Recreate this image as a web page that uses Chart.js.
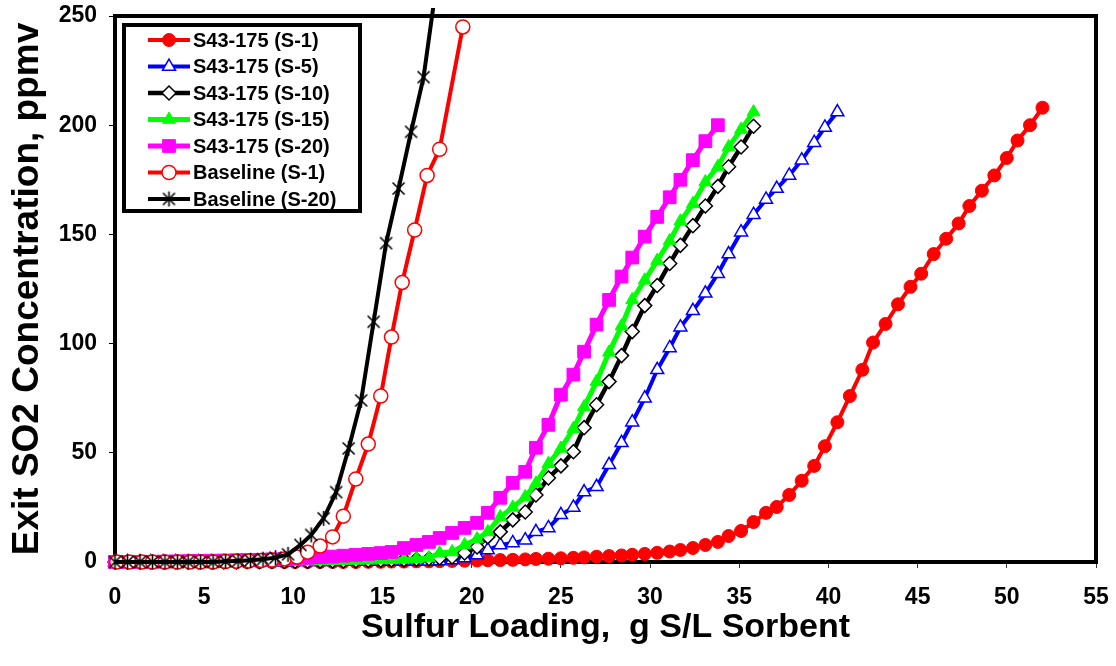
<!DOCTYPE html>
<html>
<head>
<meta charset="utf-8">
<title>Exit SO2 vs Sulfur Loading</title>
<script src="https://cdn.jsdelivr.net/npm/chart.js@4.4.1/dist/chart.umd.min.js"></script>
<style>
  html, body { margin: 0; padding: 0; background: #fff; }
  #wrap { width: 1116px; height: 666px; }
</style>
</head>
<body>
<div id="wrap"><canvas id="myChart" width="1116" height="666"></canvas></div>
<script>
// sulfur loading, g S/L sorbent (sample points of the S43-175 runs)
var loading = [0, 0.7, 1.4, 2.0, 2.7, 3.4, 4.1, 4.7, 5.4, 6.1, 6.8, 7.4, 8.1, 8.8, 9.5, 10.1, 10.8, 11.5, 12.2, 12.8,
  13.5, 14.2, 14.9, 15.5, 16.2, 16.9, 17.6, 18.2, 18.9, 19.6, 20.3, 20.9, 21.6, 22.3, 23.0, 23.6, 24.3, 25.0, 25.7, 26.3,
  27.0, 27.7, 28.4, 29.0, 29.7, 30.4, 31.1, 31.7, 32.4, 33.1, 33.8, 34.4, 35.1, 35.8, 36.5, 37.1, 37.8, 38.5, 39.2, 39.8,
  40.5, 41.2, 41.9, 42.5, 43.2, 43.9, 44.6, 45.2, 45.9, 46.6, 47.3, 47.9, 48.6, 49.3, 50.0, 50.6, 51.3, 52.0]

// exit SO2, ppmv
var s1 = [0, 0, 0, 0, 0, 0, 0, 0, 0, 0, 0, 0, 0, 0, 0, 0, 0, 0, 0, 0, 0,
  0.1, 0.1, 0.2, 0.2, 0.3,
  0.3, 0.4, 0.5, 0.6, 0.7, 0.8, 0.9, 1.0, 1.2, 1.4, 1.5, 1.7, 1.9, 2.1, 2.4, 2.7, 3.0, 3.3, 3.7, 4.2, 4.8,
  5.5, 6.4, 7.8, 9.2, 11.9, 14.2, 18.3, 22.5, 25.2, 30.7, 37.2, 44, 53, 64, 76, 88, 100.5, 109, 118, 126,
  132, 141, 148, 155, 163, 170, 177, 185, 193, 200, 208]
var s5 = [0, 0, 0, 0, 0, 0, 0, 0, 0, 0, 0, 0, 0, 0, 0,
  0.1, 0.1, 0.1, 0.1, 0.2, 0.2, 0.2, 0.3, 0.3, 0.3, 0.4, 0.4, 0.5,
  0.9, 1.8, 3.2, 5.5, 7.8, 8.7, 10, 13.8, 15.6, 21.6, 25, 32, 34.4, 44.5, 54.6, 64, 75, 88, 98, 107.5,
  115, 123, 132, 141, 151, 159, 166, 171, 177, 184, 192, 199, 206]
var s10 = [0, 0, 0, 0, 0, 0, 0, 0, 0, 0, 0,
  0.1, 0.1, 0.2, 0.2, 0.3, 0.3, 0.4, 0.5, 0.5, 0.6, 0.7, 0.8, 0.9, 1.0, 1.2, 1.5,
  1.8, 2.3, 4.1, 6.9, 11.5, 13.8, 19.3, 22.9, 30.7, 38.5, 44, 50.5, 61.5, 72, 82.6, 94.5, 105.5, 117.4,
  126.6, 136.7, 145, 154, 163, 172, 181, 190, 199.5]
var s15 = [0, 0, 0, 0, 0, 0, 0, 0, 0, 0, 0, 0,
  0.1, 0.1, 0.2, 0.3, 0.3, 0.4, 0.5, 0.6, 0.7, 0.8, 0.9, 1.0, 1.2, 1.5,
  1.8, 4.1, 4.6, 7.8, 10.5, 13.8, 20.6, 25, 29.8, 36, 45, 52, 61, 71, 82.6, 96, 108, 120,
  129, 138, 147, 156, 164, 174, 181, 190, 198, 206]
var s20 = [0, 0, 0, 0.1, 0.2, 0.3, 0.4, 0.5, 0.6, 0.7, 0.8, 0.9, 1.0, 1.2, 1.4, 1.6, 1.9, 2.2, 2.5, 2.9, 3.3, 3.7,
  4.1, 4.6, 6.4, 7.8, 9.2, 11, 13.3, 15.6, 17.9, 22.5, 29.4, 36.2, 41.3, 52.3, 62.8, 76.6, 85.8, 96.3,
  108.7, 120, 130.7, 139.4, 149, 158, 167, 175, 184, 192.7, 200]

// baseline runs have their own loading points
var baseS1X = [0.1, 0.8, 1.5, 2.1, 2.8, 3.5, 4.2, 4.8, 5.5, 6.2, 6.8, 7.5, 8.2, 8.8, 9.5, 10.2, 10.8, 11.5, 12.2, 12.8,
  13.5, 14.2, 14.9, 15.5, 16.1, 16.8, 17.5, 18.2, 19.5]
var baseS1Y = [0, 0, 0, 0, 0, 0, 0, 0, 0, 0.2, 0.3, 0.5, 0.7, 0.9, 1.4, 2.3, 4.5, 7.3, 11.5, 21,
  38, 54, 76, 103, 128, 152, 177, 189, 245]
var baseS20X = [0, 0.7, 1.4, 2.1, 2.8, 3.5, 4.1, 4.8, 5.5, 6.2, 6.9, 7.6, 8.3, 9.0, 9.7, 10.4, 11.0, 11.7, 12.4, 13.1,
  13.8, 14.5, 15.2, 15.9, 16.6, 17.3, 18.2]
var baseS20Y = [0, 0, 0, 0, 0, 0, 0, 0, 0, 0.3, 0.5, 0.8, 1.3, 2.0, 3.5, 7.8, 12.4, 20, 32, 52,
  74, 110, 146, 171, 197, 222, 275]

var seriesNames = ['S43-175 (S-1)', 'S43-175 (S-5)', 'S43-175 (S-10)', 'S43-175 (S-15)', 'S43-175 (S-20)',
  'Baseline (S-1)', 'Baseline (S-20)']
var xTicks = [0, 5, 10, 15, 20, 25, 30, 35, 40, 45, 50, 55]
var yTicks = [0, 50, 100, 150, 200, 250]

var FONT = '"Liberation Sans", Arial, Helvetica, sans-serif'

function pts(xs, ys) {
  return ys.map(function (v, i) { return {x: xs[i], y: v} })
}

function starMarker() {
  var c = document.createElement('canvas')
  c.width = 17; c.height = 17
  var g = c.getContext('2d')
  g.strokeStyle = '#000'
  g.lineWidth = 1.6
  g.beginPath()
  g.moveTo(2.5, 2.5); g.lineTo(14.5, 14.5)
  g.moveTo(14.5, 2.5); g.lineTo(2.5, 14.5)
  g.moveTo(8.5, 1); g.lineTo(8.5, 16)
  g.stroke()
  return c
}

// no extra room for tick labels: the plot box is fixed by layout padding
function noPad(s) {
  s.paddingLeft = 0; s.paddingRight = 0; s.paddingTop = 0; s.paddingBottom = 0
}

var framePlugin = {
  id: 'frame',
  beforeDatasetsDraw: function (chart) {
    var a = chart.chartArea, ctx = chart.ctx
    ctx.save()
    ctx.strokeStyle = '#000'
    ctx.lineWidth = 4
    ctx.strokeRect(a.left, a.top, a.right - a.left, a.bottom - a.top)
    ctx.restore()
  }
}

var boxLegend = {
  id: 'boxLegend',
  afterDraw: function (chart) {
    var ctx = chart.ctx
    ctx.save()
    ctx.fillStyle = '#fff'
    ctx.fillRect(124, 25, 236, 186)
    ctx.strokeStyle = '#000'
    ctx.lineWidth = 4
    ctx.strokeRect(124, 25, 236, 186)
    chart.data.datasets.forEach(function (ds, i) {
      var y = 40 + i * 26.5
      ctx.strokeStyle = ds.borderColor
      ctx.lineWidth = ds.borderWidth
      ctx.beginPath()
      ctx.moveTo(148, y)
      ctx.lineTo(190, y)
      ctx.stroke()
      ctx.fillStyle = ds.pointBackgroundColor
      ctx.strokeStyle = ds.pointBorderColor
      ctx.lineWidth = ds.pointBorderWidth
      Chart.helpers.drawPoint(ctx, {pointStyle: ds.pointStyle, radius: ds.pointRadius, rotation: 0,
        borderWidth: ds.pointBorderWidth}, 169, y)
      ctx.fillStyle = '#000'
      ctx.font = 'bold 20px ' + FONT
      ctx.textAlign = 'left'
      ctx.textBaseline = 'middle'
      ctx.fillText(ds.label, 193, y + 1)
    })
    ctx.restore()
  }
}

function setChart() {
  var ctx = document.getElementById('myChart')
  var clip = {left: 12, top: 8, right: 12, bottom: 12}
  var myChart = new Chart(ctx, {
    type: 'line',
    data: {
      datasets: [{
        label: seriesNames[0],
        data: pts(loading, s1),
        borderColor: '#ff0000', borderWidth: 4,
        pointStyle: 'circle', pointRadius: 6.5,
        pointBackgroundColor: '#ff0000', pointBorderColor: '#ff0000', pointBorderWidth: 1,
        order: 7, clip: clip
      }, {
        label: seriesNames[1],
        data: pts(loading, s5),
        borderColor: '#0000ff', borderWidth: 4,
        pointStyle: 'triangle', pointRadius: 7.5,
        pointBackgroundColor: '#ffffff', pointBorderColor: '#0000ff', pointBorderWidth: 1.5,
        order: 6, clip: clip
      }, {
        label: seriesNames[2],
        data: pts(loading, s10),
        borderColor: '#000000', borderWidth: 4.5,
        pointStyle: 'rectRot', pointRadius: 7,
        pointBackgroundColor: '#ffffff', pointBorderColor: '#000000', pointBorderWidth: 1.5,
        order: 5, clip: clip
      }, {
        label: seriesNames[3],
        data: pts(loading, s15),
        borderColor: '#00ff00', borderWidth: 5,
        pointStyle: 'triangle', pointRadius: 7.5,
        pointBackgroundColor: '#00ff00', pointBorderColor: '#00ff00', pointBorderWidth: 1,
        order: 4, clip: clip
      }, {
        label: seriesNames[4],
        data: pts(loading, s20),
        borderColor: '#ff00ff', borderWidth: 5,
        pointStyle: 'rect', pointRadius: 9,
        pointBackgroundColor: '#ff00ff', pointBorderColor: '#ff00ff', pointBorderWidth: 1,
        order: 3, clip: clip
      }, {
        label: seriesNames[5],
        data: pts(baseS1X, baseS1Y),
        borderColor: '#ff0000', borderWidth: 4,
        pointStyle: 'circle', pointRadius: 7,
        pointBackgroundColor: '#ffffff', pointBorderColor: '#ff0000', pointBorderWidth: 1.5,
        order: 2, clip: clip
      }, {
        label: seriesNames[6],
        data: pts(baseS20X, baseS20Y),
        borderColor: '#000000', borderWidth: 4,
        pointStyle: starMarker(), pointRadius: 8,
        pointBackgroundColor: '#000000', pointBorderColor: '#000000', pointBorderWidth: 1.5,
        order: 1, clip: clip
      }]
    },
    options: {
      responsive: false,
      animation: false,
      events: [],
      layout: {padding: {top: 16, right: 20, left: 0, bottom: 0}},
      elements: {line: {tension: 0}},
      plugins: {legend: {display: false}, tooltip: {enabled: false}},
      scales: {
        x: {
          type: 'linear', min: 0, max: 55,
          afterFit: function (s) { s.height = 104; noPad(s) },
          afterBuildTicks: function (s) { s.ticks = xTicks.map(function (v) { return {value: v} }) },
          ticks: {color: '#000', padding: 16, font: {family: FONT, size: 23, weight: 'bold'}},
          grid: {drawOnChartArea: false, tickLength: 6, color: '#333', lineWidth: 1},
          border: {display: true, color: '#000', width: 4},
          title: {display: true, text: 'Sulfur Loading,  g S/L Sorbent', color: '#000',
            font: {family: FONT, size: 34, weight: 'bold', lineHeight: 1}, padding: {top: 0, bottom: 21}}
        },
        y: {
          type: 'linear', min: 0, max: 250,
          afterFit: function (s) { s.width = 115; noPad(s) },
          afterBuildTicks: function (s) { s.ticks = yTicks.map(function (v) { return {value: v} }) },
          ticks: {color: '#000', padding: 12, font: {family: FONT, size: 23, weight: 'bold'}},
          grid: {drawOnChartArea: false, tickLength: 6, color: '#000', lineWidth: 1},
          border: {display: true, color: '#000', width: 4},
          title: {display: true, text: 'Exit SO2 Concentration, ppmv', color: '#000',
            font: {family: FONT, size: 37, weight: 'bold', lineHeight: 1}, padding: {top: 9, bottom: 0}}
        }
      }
    },
    plugins: [framePlugin, boxLegend]
  })
  console.log(myChart.chartArea)
}

setChart()
</script>
</body>
</html>
